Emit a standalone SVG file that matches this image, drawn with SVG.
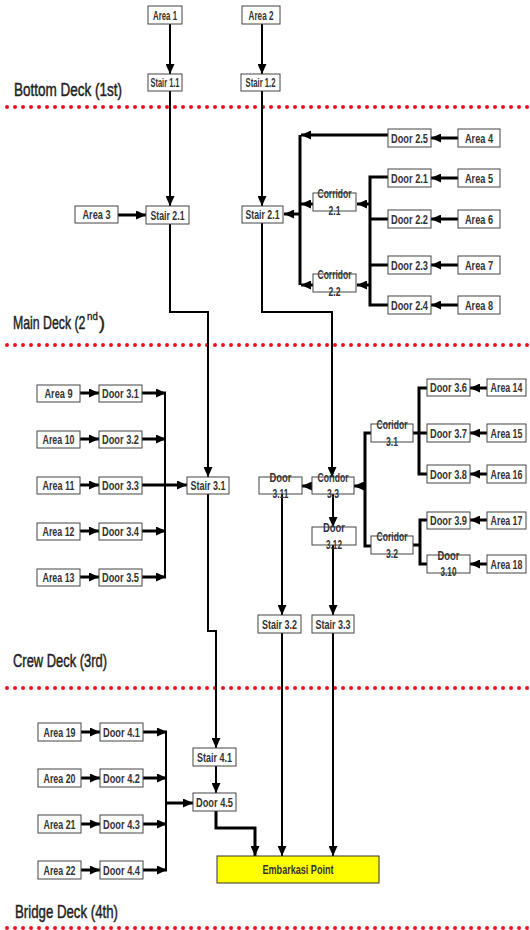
<svg xmlns="http://www.w3.org/2000/svg" width="530" height="930" viewBox="0 0 530 930">
<defs>
<style>
.box{fill:#fff;stroke:#444;stroke-width:1}
.emb{fill:#ffff00;stroke:#333;stroke-width:1}
.lbl{font-family:"Liberation Sans Narrow","Liberation Sans",Arial,sans-serif;font-weight:bold;font-size:13px;fill:#333;text-anchor:middle}
.sm{font-size:12px}
.deck{font-family:"Liberation Sans Narrow","Liberation Sans",Arial,sans-serif;font-size:18px;fill:#222;stroke:#222;stroke-width:0.45}
.dots{stroke:#e8141c;stroke-width:4;stroke-linecap:round;stroke-dasharray:0 8;fill:none}
.c{stroke:#000;stroke-width:2;fill:none}
.t{stroke:#000;stroke-width:3;fill:none}
</style>
<marker id="ah" markerUnits="userSpaceOnUse" markerWidth="10" markerHeight="9" refX="10" refY="4.5" orient="auto">
<path d="M0,0 L10,4.5 L0,9 z" fill="#000"/>
</marker>
</defs>
<rect width="530" height="930" fill="#fff"/>

<g id="deck-lines">
<line class="dots" x1="7" y1="107" x2="530" y2="107"/>
<line class="dots" x1="7" y1="345" x2="530" y2="345"/>
<line class="dots" x1="7" y1="688" x2="530" y2="688"/>
<line class="dots" x1="7" y1="928" x2="530" y2="928"/>
</g>
<g id="deck-labels">
<text class="deck" x="14" y="96" textLength="108" lengthAdjust="spacingAndGlyphs">Bottom Deck (1st)</text>
<text class="deck" transform="translate(13,329) scale(0.69,1)" x="0" y="0" textLength="105" lengthAdjust="spacingAndGlyphs">Main Deck (2</text>
<text class="deck" transform="translate(87,320) scale(0.9,1)" x="0" y="0" style="font-size:10px;stroke-width:0.3" textLength="12" lengthAdjust="spacingAndGlyphs">nd</text>
<text class="deck" x="99" y="329">)</text>
<text class="deck" x="13" y="667" textLength="94" lengthAdjust="spacingAndGlyphs">Crew Deck (3rd)</text>
<text class="deck" x="15" y="918" textLength="103" lengthAdjust="spacingAndGlyphs">Bridge Deck (4th)</text>
</g>

<g id="connectors">
<path class="c" d="M170,24 V74" marker-end="url(#ah)"/>
<path class="c" d="M262,24 V74" marker-end="url(#ah)"/>
<path class="c" d="M170,91 V206" marker-end="url(#ah)"/>
<path class="c" d="M262,91 V206" marker-end="url(#ah)"/>
<path class="t" d="M118,215 H146" marker-end="url(#ah)"/>
<path class="t" d="M458,138 H431" marker-end="url(#ah)"/>
<path class="t" d="M458,178 H431" marker-end="url(#ah)"/>
<path class="t" d="M458,219 H431" marker-end="url(#ah)"/>
<path class="t" d="M458,265 H431" marker-end="url(#ah)"/>
<path class="t" d="M458,305 H431" marker-end="url(#ah)"/>
<path class="t" d="M388,135 H301" marker-end="url(#ah)"/>
<path class="t" d="M300,135 V285"/>
<path class="t" d="M300,214 H284" marker-end="url(#ah)"/>
<path class="t" d="M313,204 H301" marker-end="url(#ah)"/>
<path class="t" d="M313,285 H301" marker-end="url(#ah)"/>
<path class="t" d="M388,177 H370 V305 H388 M370,219 H388 M370,265 H388"/>
<path class="t" d="M370,204 H357" marker-end="url(#ah)"/>
<path class="t" d="M370,285 H357" marker-end="url(#ah)"/>
<path class="c" d="M170,224 V312 H208 V477" marker-end="url(#ah)"/>
<path class="c" d="M262,223 V312 H332 V477" marker-end="url(#ah)"/>

<path class="t" d="M80,393 H99" marker-end="url(#ah)"/>
<path class="t" d="M80,439 H99" marker-end="url(#ah)"/>
<path class="t" d="M80,485 H99" marker-end="url(#ah)"/>
<path class="t" d="M80,531 H99" marker-end="url(#ah)"/>
<path class="t" d="M80,577 H99" marker-end="url(#ah)"/>
<path class="t" d="M142,393 H166" marker-end="url(#ah)"/>
<path class="t" d="M142,439 H166" marker-end="url(#ah)"/>
<path class="t" d="M142,531 H166" marker-end="url(#ah)"/>
<path class="t" d="M142,577 H166" marker-end="url(#ah)"/>
<path class="t" d="M142,485 H187" marker-end="url(#ah)"/>
<path class="c" d="M165,393 V577"/>

<path class="t" d="M312,486 H302" marker-end="url(#ah)"/>
<path class="t" d="M365,486 H354" marker-end="url(#ah)"/>
<path class="t" d="M371,433 H365 V546 H371"/>
<path class="t" d="M413,433 H427 M427,388 H419 V474 H427"/>
<path class="t" d="M413,545 H420 M427,520 H420 V564 H427"/>
<path class="t" d="M487,388 H470" marker-end="url(#ah)"/>
<path class="t" d="M487,433 H470" marker-end="url(#ah)"/>
<path class="t" d="M487,474 H470" marker-end="url(#ah)"/>
<path class="t" d="M487,520 H470" marker-end="url(#ah)"/>
<path class="t" d="M487,564 H470" marker-end="url(#ah)"/>
<path class="c" d="M333,494 V527" marker-end="url(#ah)"/>
<path class="c" d="M282,494 V615" marker-end="url(#ah)"/>
<path class="c" d="M333,545 V615" marker-end="url(#ah)"/>
<path class="c" d="M208,494 V631 H216 V748" marker-end="url(#ah)"/>
<path class="c" d="M282,633 V856" marker-end="url(#ah)"/>
<path class="c" d="M333,633 V856" marker-end="url(#ah)"/>

<path class="t" d="M81,732 H100" marker-end="url(#ah)"/>
<path class="t" d="M81,778 H100" marker-end="url(#ah)"/>
<path class="t" d="M81,824 H100" marker-end="url(#ah)"/>
<path class="t" d="M81,870 H100" marker-end="url(#ah)"/>
<path class="t" d="M143,732 H167" marker-end="url(#ah)"/>
<path class="t" d="M143,778 H167" marker-end="url(#ah)"/>
<path class="t" d="M143,824 H167" marker-end="url(#ah)"/>
<path class="t" d="M143,870 H167" marker-end="url(#ah)"/>
<path class="c" d="M166,732 V870"/>
<path class="t" d="M166,803 H193" marker-end="url(#ah)"/>
<path class="c" d="M216,766 V793" marker-end="url(#ah)"/>
<path class="t" d="M216,811 V828 H255 V856" marker-end="url(#ah)"/>
</g>

<g id="area1"><rect class="box" x="148" y="6" width="34" height="18"/><text class="lbl" x="165" y="19.5" textLength="24" lengthAdjust="spacingAndGlyphs">Area 1</text></g>
<g id="area2"><rect class="box" x="242" y="6" width="38" height="18"/><text class="lbl" x="261" y="19.5" textLength="25" lengthAdjust="spacingAndGlyphs">Area 2</text></g>
<g id="stair11"><rect class="box" x="148" y="74" width="34" height="17"/><text class="lbl" x="165" y="87" textLength="29" lengthAdjust="spacingAndGlyphs">Stair 1.1</text></g>
<g id="stair12"><rect class="box" x="241" y="74" width="39" height="17"/><text class="lbl" x="260.5" y="87" textLength="30" lengthAdjust="spacingAndGlyphs">Stair 1.2</text></g>

<g id="area3"><rect class="box" x="75" y="206" width="43" height="17"/><text class="lbl" x="96.5" y="219" textLength="28" lengthAdjust="spacingAndGlyphs">Area 3</text></g>
<g id="stair21a"><rect class="box" x="146" y="206" width="43" height="18"/><text class="lbl" x="167.5" y="219.5" textLength="34" lengthAdjust="spacingAndGlyphs">Stair 2.1</text></g>
<g id="stair21b"><rect class="box" x="242" y="206" width="41" height="17"/><text class="lbl" x="262.5" y="219" textLength="34" lengthAdjust="spacingAndGlyphs">Stair 2.1</text></g>
<g id="corr21"><rect class="box" x="313" y="193" width="43" height="18"/><text class="lbl" x="334.5" y="198" textLength="34" lengthAdjust="spacingAndGlyphs">Corridor</text><text class="lbl" x="334.5" y="215" textLength="12" lengthAdjust="spacingAndGlyphs">2.1</text></g>
<g id="corr22"><rect class="box" x="313" y="274" width="43" height="18"/><text class="lbl" x="334.5" y="279" textLength="34" lengthAdjust="spacingAndGlyphs">Corridor</text><text class="lbl" x="334.5" y="296" textLength="12" lengthAdjust="spacingAndGlyphs">2.2</text></g>
<g id="door25"><rect class="box" x="388" y="129" width="43" height="18"/><text class="lbl" x="409.5" y="142.5" textLength="37" lengthAdjust="spacingAndGlyphs">Door 2.5</text></g>
<g id="door21"><rect class="box" x="388" y="169" width="43" height="18"/><text class="lbl" x="409.5" y="182.5" textLength="37" lengthAdjust="spacingAndGlyphs">Door 2.1</text></g>
<g id="door22"><rect class="box" x="388" y="210" width="43" height="18"/><text class="lbl" x="409.5" y="223.5" textLength="37" lengthAdjust="spacingAndGlyphs">Door 2.2</text></g>
<g id="door23"><rect class="box" x="388" y="256" width="43" height="18"/><text class="lbl" x="409.5" y="269.5" textLength="37" lengthAdjust="spacingAndGlyphs">Door 2.3</text></g>
<g id="door24"><rect class="box" x="388" y="296" width="43" height="18"/><text class="lbl" x="409.5" y="309.5" textLength="37" lengthAdjust="spacingAndGlyphs">Door 2.4</text></g>
<g id="area4"><rect class="box" x="458" y="129" width="42" height="18"/><text class="lbl" x="479" y="142.5" textLength="28" lengthAdjust="spacingAndGlyphs">Area 4</text></g>
<g id="area5"><rect class="box" x="458" y="169" width="42" height="18"/><text class="lbl" x="479" y="182.5" textLength="28" lengthAdjust="spacingAndGlyphs">Area 5</text></g>
<g id="area6"><rect class="box" x="458" y="210" width="42" height="18"/><text class="lbl" x="479" y="223.5" textLength="28" lengthAdjust="spacingAndGlyphs">Area 6</text></g>
<g id="area7"><rect class="box" x="458" y="256" width="42" height="18"/><text class="lbl" x="479" y="269.5" textLength="28" lengthAdjust="spacingAndGlyphs">Area 7</text></g>
<g id="area8"><rect class="box" x="458" y="296" width="42" height="18"/><text class="lbl" x="479" y="309.5" textLength="28" lengthAdjust="spacingAndGlyphs">Area 8</text></g>

<g id="area9"><rect class="box" x="37" y="385" width="43" height="17"/><text class="lbl" x="58.5" y="398" textLength="28" lengthAdjust="spacingAndGlyphs">Area 9</text></g>
<g id="area10"><rect class="box" x="37" y="431" width="43" height="17"/><text class="lbl" x="58.5" y="444" textLength="32" lengthAdjust="spacingAndGlyphs">Area 10</text></g>
<g id="area11"><rect class="box" x="37" y="477" width="43" height="17"/><text class="lbl" x="58.5" y="490" textLength="32" lengthAdjust="spacingAndGlyphs">Area 11</text></g>
<g id="area12"><rect class="box" x="37" y="523" width="43" height="17"/><text class="lbl" x="58.5" y="536" textLength="32" lengthAdjust="spacingAndGlyphs">Area 12</text></g>
<g id="area13"><rect class="box" x="37" y="569" width="43" height="17"/><text class="lbl" x="58.5" y="582" textLength="32" lengthAdjust="spacingAndGlyphs">Area 13</text></g>
<g id="door31"><rect class="box" x="99" y="385" width="43" height="17"/><text class="lbl" x="120.5" y="398" textLength="37" lengthAdjust="spacingAndGlyphs">Door 3.1</text></g>
<g id="door32"><rect class="box" x="99" y="431" width="43" height="17"/><text class="lbl" x="120.5" y="444" textLength="37" lengthAdjust="spacingAndGlyphs">Door 3.2</text></g>
<g id="door33"><rect class="box" x="99" y="477" width="43" height="17"/><text class="lbl" x="120.5" y="490" textLength="37" lengthAdjust="spacingAndGlyphs">Door 3.3</text></g>
<g id="door34"><rect class="box" x="99" y="523" width="43" height="17"/><text class="lbl" x="120.5" y="536" textLength="37" lengthAdjust="spacingAndGlyphs">Door 3.4</text></g>
<g id="door35"><rect class="box" x="99" y="569" width="43" height="17"/><text class="lbl" x="120.5" y="582" textLength="37" lengthAdjust="spacingAndGlyphs">Door 3.5</text></g>
<g id="stair31"><rect class="box" x="187" y="477" width="42" height="17"/><text class="lbl" x="208" y="490" textLength="35" lengthAdjust="spacingAndGlyphs">Stair 3.1</text></g>
<g id="door311"><rect class="box" x="259" y="477" width="43" height="17"/><text class="lbl" x="280.5" y="482" textLength="22" lengthAdjust="spacingAndGlyphs">Door</text><text class="lbl" x="280.5" y="498" textLength="16" lengthAdjust="spacingAndGlyphs">3.11</text></g>
<g id="corr33"><rect class="box" x="312" y="477" width="42" height="17"/><text class="lbl" x="333" y="482" textLength="31" lengthAdjust="spacingAndGlyphs">Coridor</text><text class="lbl" x="333" y="498" textLength="12" lengthAdjust="spacingAndGlyphs">3.3</text></g>
<g id="door312"><rect class="box" x="312" y="527" width="44" height="18"/><text class="lbl" x="334" y="532" textLength="22" lengthAdjust="spacingAndGlyphs">Door</text><text class="lbl" x="334" y="549" textLength="16" lengthAdjust="spacingAndGlyphs">3.12</text></g>
<g id="corr31"><rect class="box" x="371" y="424" width="42" height="18"/><text class="lbl" x="392" y="429" textLength="31" lengthAdjust="spacingAndGlyphs">Coridor</text><text class="lbl" x="392" y="446" textLength="12" lengthAdjust="spacingAndGlyphs">3.1</text></g>
<g id="corr32"><rect class="box" x="371" y="536" width="42" height="18"/><text class="lbl" x="392" y="541" textLength="31" lengthAdjust="spacingAndGlyphs">Coridor</text><text class="lbl" x="392" y="558" textLength="12" lengthAdjust="spacingAndGlyphs">3.2</text></g>
<g id="door36"><rect class="box" x="427" y="379" width="43" height="17"/><text class="lbl" x="448.5" y="392" textLength="37" lengthAdjust="spacingAndGlyphs">Door 3.6</text></g>
<g id="door37"><rect class="box" x="427" y="424" width="43" height="18"/><text class="lbl" x="448.5" y="437.5" textLength="37" lengthAdjust="spacingAndGlyphs">Door 3.7</text></g>
<g id="door38"><rect class="box" x="427" y="465" width="43" height="18"/><text class="lbl" x="448.5" y="478.5" textLength="37" lengthAdjust="spacingAndGlyphs">Door 3.8</text></g>
<g id="door39"><rect class="box" x="427" y="512" width="43" height="17"/><text class="lbl" x="448.5" y="525" textLength="37" lengthAdjust="spacingAndGlyphs">Door 3.9</text></g>
<g id="door310"><rect class="box" x="427" y="555" width="43" height="18"/><text class="lbl" x="448.5" y="560" textLength="22" lengthAdjust="spacingAndGlyphs">Door</text><text class="lbl" x="448.5" y="576" textLength="16" lengthAdjust="spacingAndGlyphs">3.10</text></g>
<g id="area14"><rect class="box" x="487" y="379" width="39" height="17"/><text class="lbl sm" transform="translate(506.5,392) scale(0.74,1)" x="0" y="0" textLength="43" lengthAdjust="spacingAndGlyphs">Area 14</text></g>
<g id="area15"><rect class="box" x="487" y="424" width="39" height="18"/><text class="lbl sm" transform="translate(506.5,437.5) scale(0.74,1)" x="0" y="0" textLength="43" lengthAdjust="spacingAndGlyphs">Area 15</text></g>
<g id="area16"><rect class="box" x="487" y="465" width="39" height="18"/><text class="lbl sm" transform="translate(506.5,478.5) scale(0.74,1)" x="0" y="0" textLength="43" lengthAdjust="spacingAndGlyphs">Area 16</text></g>
<g id="area17"><rect class="box" x="487" y="512" width="39" height="17"/><text class="lbl sm" transform="translate(506.5,525) scale(0.74,1)" x="0" y="0" textLength="43" lengthAdjust="spacingAndGlyphs">Area 17</text></g>
<g id="area18"><rect class="box" x="487" y="555" width="39" height="18"/><text class="lbl sm" transform="translate(506.5,568.5) scale(0.74,1)" x="0" y="0" textLength="43" lengthAdjust="spacingAndGlyphs">Area 18</text></g>
<g id="stair32"><rect class="box" x="258" y="615" width="43" height="18"/><text class="lbl" x="279.5" y="628.5" textLength="35" lengthAdjust="spacingAndGlyphs">Stair 3.2</text></g>
<g id="stair33"><rect class="box" x="312" y="615" width="42" height="18"/><text class="lbl" x="333" y="628.5" textLength="35" lengthAdjust="spacingAndGlyphs">Stair 3.3</text></g>

<g id="area19"><rect class="box" x="38" y="723" width="43" height="18"/><text class="lbl" x="59.5" y="736.5" textLength="32" lengthAdjust="spacingAndGlyphs">Area 19</text></g>
<g id="area20"><rect class="box" x="38" y="769" width="43" height="18"/><text class="lbl" x="59.5" y="782.5" textLength="32" lengthAdjust="spacingAndGlyphs">Area 20</text></g>
<g id="area21"><rect class="box" x="38" y="815" width="43" height="18"/><text class="lbl" x="59.5" y="828.5" textLength="32" lengthAdjust="spacingAndGlyphs">Area 21</text></g>
<g id="area22"><rect class="box" x="38" y="861" width="43" height="18"/><text class="lbl" x="59.5" y="874.5" textLength="32" lengthAdjust="spacingAndGlyphs">Area 22</text></g>
<g id="door41"><rect class="box" x="100" y="723" width="43" height="18"/><text class="lbl" x="121.5" y="736.5" textLength="37" lengthAdjust="spacingAndGlyphs">Door 4.1</text></g>
<g id="door42"><rect class="box" x="100" y="769" width="43" height="18"/><text class="lbl" x="121.5" y="782.5" textLength="37" lengthAdjust="spacingAndGlyphs">Door 4.2</text></g>
<g id="door43"><rect class="box" x="100" y="815" width="43" height="18"/><text class="lbl" x="121.5" y="828.5" textLength="37" lengthAdjust="spacingAndGlyphs">Door 4.3</text></g>
<g id="door44"><rect class="box" x="100" y="861" width="43" height="18"/><text class="lbl" x="121.5" y="874.5" textLength="37" lengthAdjust="spacingAndGlyphs">Door 4.4</text></g>
<g id="stair41"><rect class="box" x="193" y="748" width="43" height="18"/><text class="lbl" x="214.5" y="761.5" textLength="35" lengthAdjust="spacingAndGlyphs">Stair 4.1</text></g>
<g id="door45"><rect class="box" x="193" y="793" width="43" height="18"/><text class="lbl" x="214.5" y="806.5" textLength="37" lengthAdjust="spacingAndGlyphs">Door 4.5</text></g>
<g id="embarkasi"><rect class="emb" x="217" y="856" width="162" height="27"/><text class="lbl" x="298" y="874" textLength="71" lengthAdjust="spacingAndGlyphs">Embarkasi Point</text></g>
</svg>
